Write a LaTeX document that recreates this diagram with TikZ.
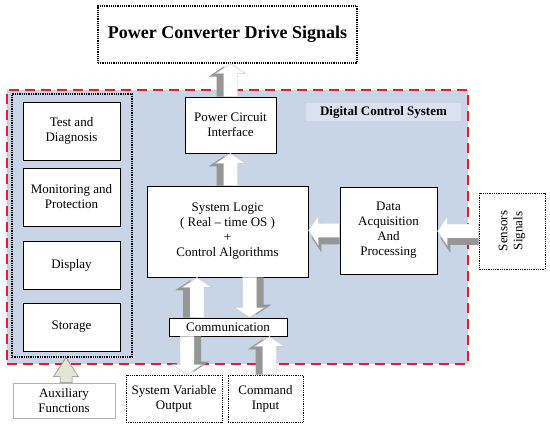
\documentclass[tikz,border=0pt]{standalone}
\usepackage{fontspec}
\setmainfont{Liberation Serif}
\usetikzlibrary{calc}

\definecolor{dcsblue}{RGB}{199,213,231}
\definecolor{lblblue}{RGB}{217,226,238}
\definecolor{dashred}{RGB}{232,28,36}
\definecolor{auxgreen}{RGB}{226,230,210}
\definecolor{shadegray}{RGB}{150,150,150}

\tikzset{
  % fat block arrow: offset, shorten, half shaft, half head, head length
  fatpoly/.style n args={5}{to path={
      let \p1=(\tikztostart), \p2=(\tikztotarget),
          \n1={atan2(\y2-\y1,\x2-\x1)}, \n2={veclen(\x2-\x1,\y2-\y1)} in
      {[shift={(\p1)}, rotate=\n1, x=1pt, y=1pt]
        (0,#1-#3) -- (\n2-#5-#2,#1-#3) -- (\n2-#5-#2,#1-#4) -- (\n2-#2,#1)
        -- (\n2-#5-#2,#1+#4) -- (\n2-#5-#2,#1+#3) -- (0,#1+#3) -- cycle}}},
  arrshade/.style={fill=shadegray, fatpoly={7}{3}{7}{15}{10}},
  arrmain/.style={fill=white, draw=gray!45, line width=0.4pt, fatpoly={0}{0}{7}{15}{10}},
  auxarr/.style={fill=auxgreen, draw=gray, line width=0.5pt, fatpoly={0}{0}{6}{12.5}{19}}
}
\newcommand{\blockarr}[2]{%
  \path[arrshade] #1 to #2;
  \path[arrmain] #1 to #2;}

\begin{document}
\begin{tikzpicture}[x=1pt, y=-1pt,
  txt/.style={font=\fontsize{13}{15}\selectfont, align=center, inner sep=0pt},
  blk/.style={txt, draw, fill=white, line width=0.9pt},
  dotbox/.style={txt, draw, densely dotted, line width=0.9pt},
  dcsbox/.style={draw=dashred, fill=dcsblue, line width=1.5pt, dash pattern=on 10pt off 6pt}
]
\useasboundingbox (0,0) rectangle (550,427);

% Digital control system (background)
\node[dcsbox, minimum width=461pt, minimum height=274pt] (dcs) at (237.5,227) {};
\node[fill=lblblue, minimum width=155pt, minimum height=18pt, inner sep=0pt,
      font=\fontsize{13}{15}\selectfont\bfseries] (dcslbl) at (383.5,112) {Digital Control System};

% Output (top)
\node[dotbox, line width=1.2pt, minimum width=259pt, minimum height=57pt,
      font=\fontsize{18}{20}\selectfont\bfseries] (conv) at (227.5,34.5) {Power Converter Drive Signals};

% Auxiliary functions (left)
\node[draw, densely dotted, line width=1.3pt, minimum width=120pt, minimum height=263pt] (auxbox) at (72,225.5) {};
\node[blk, minimum width=97pt, minimum height=58pt] (test)  at (71.5,131) {Test and\\Diagnosis};
\node[blk, minimum width=97pt, minimum height=58pt] (monit) at (71.5,197) {Monitoring and\\Protection};
\node[blk, minimum width=97pt, minimum height=48pt] (disp)  at (71.5,265) {Display};
\node[blk, minimum width=97pt, minimum height=48pt] (stor)  at (71.5,327) {Storage};

% Core
\node[blk, minimum width=91pt, minimum height=56pt]  (pci)   at (230.5,125) {Power Circuit\\Interface};
\node[blk, minimum width=161pt, minimum height=91pt] (logic) at (227.5,231.5) {System Logic\\( Real -- time OS )\\+\\Control Algorithms};
\node[blk, minimum width=97pt, minimum height=87pt]  (daq)   at (388.5,230.5) {Data\\Acquisition\\And\\Processing};
\node[blk, minimum width=118pt, minimum height=18pt] (comm)  at (228,327) {Communication};

% External signals
\node[dotbox, line width=0.8pt, minimum width=76pt, minimum height=66pt, rotate=90] (sens) at (512,231) {Sensors\\Signals};
\node[txt, draw=gray!60, line width=0.6pt, minimum width=102pt, minimum height=35pt] (auxf) at (64,400.5) {Auxiliary\\Functions};
\node[dotbox, line width=0.8pt, minimum width=96pt, minimum height=47pt] (svo) at (174,398.5) {System Variable\\Output};
\node[dotbox, line width=0.8pt, minimum width=75pt, minimum height=47pt] (cmd) at (265.5,398.5) {Command\\Input};

% Arrows
\blockarr{(pci.north)}{(pci.north |- conv.south)}
\blockarr{(pci.south |- logic.north)}{(pci.south)}
\blockarr{(daq.west)}{(daq.west -| logic.east)}
\blockarr{(sens.north)}{(sens.north -| daq.east)}
\blockarr{([xshift=-31pt]comm.north)}{([xshift=-31pt]comm.north |- logic.south)}
\blockarr{([xshift=22pt]logic.south)}{([xshift=22pt]logic.south |- comm.north)}
\blockarr{([xshift=-41pt]comm.south)}{([xshift=-41pt]comm.south |- svo.north)}
\blockarr{([xshift=4pt]cmd.north)}{([xshift=4pt]cmd.north |- comm.south)}
\path[auxarr] ([xshift=2pt]auxf.north) to ([xshift=2pt]auxf.north |- auxbox.south);

\end{tikzpicture}
\end{document}
